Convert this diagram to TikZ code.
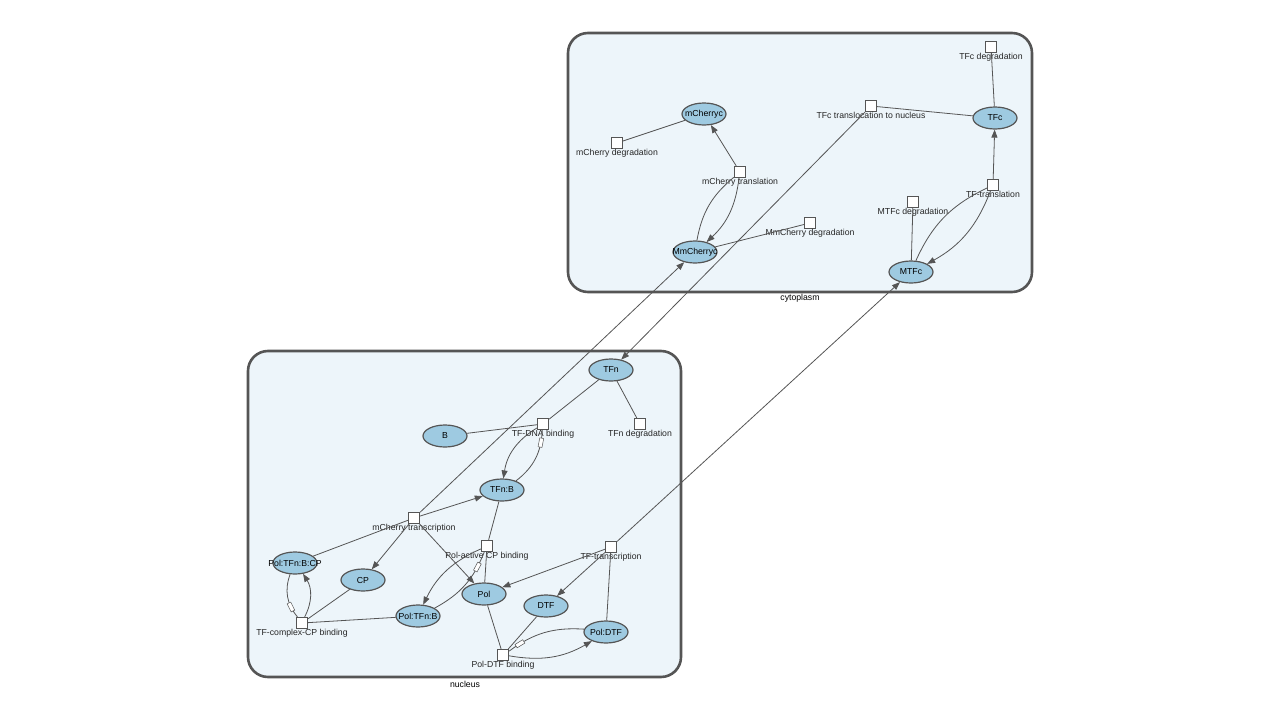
\documentclass[tikz,border=0pt]{standalone}
\usepackage{fontspec}
\setmainfont{Liberation Sans}
\usetikzlibrary{shapes.geometric,arrows.meta}
\definecolor{compfill}{HTML}{EDF5FA}
\definecolor{specfill}{HTML}{9ECAE1}
\definecolor{linegray}{HTML}{555555}
\newcommand{\sname}[1]{\makebox[0pt]{#1}}

\begin{document}
\begin{tikzpicture}[x=1pt,y=1pt,
    font=\fontsize{8.7}{10}\selectfont,
    compartment/.style={draw=linegray,line width=2.6pt,fill=compfill,rounded corners=20pt},
    species/.style={ellipse,draw=linegray,line width=1.2pt,fill=specfill,minimum width=44pt,minimum height=22pt,inner sep=0pt},
    process/.style={draw=linegray,line width=1.2pt,fill=white,minimum size=11pt,inner sep=0pt},
    lbl/.style={inner sep=0pt,text=black!85},
    edge/.style={draw=linegray,line width=0.8pt},
    prod/.style={edge,-{Triangle[length=8pt,width=6pt]}},
    revmark/.style={draw=linegray,line width=0.5pt,fill=white,minimum width=9pt,minimum height=4pt,inner sep=0pt,sloped}]
  \useasboundingbox (0,1) rectangle (1280,-719);
  %compartments
  \path[compartment] (568,-32) rectangle (1032,-291);
  \node[] (cytolbl) at (800,-297) {cytoplasm};
  \path[compartment] (248,-350) rectangle (681,-676);
  \node[] (nuclbl) at (465,-683) {nucleus};

  %cytoplasm
  \node[process,label={[lbl]below:TFc degradation}] (tfcdeg) at (991,-46) {};
  \node[species] (tfc) at (995,-117) {\sname{TFc}};
  \node[process,label={[lbl]below:TFc translocation to nucleus}] (tfctrans) at (871,-105) {};
  \node[species] (mcherryc) at (704,-113) {\sname{mCherryc}};
  \node[process,label={[lbl]below:mCherry degradation}] (mchdeg) at (617,-142) {};
  \node[process,label={[lbl]below:mCherry translation}] (mchtransl) at (740,-171) {};
  \node[species] (mmcherryc) at (695,-251) {\sname{MmCherryc}};
  \node[process,label={[lbl]below:MmCherry degradation}] (mmchdeg) at (810,-222) {};
  \node[process,label={[lbl]below:MTFc degradation}] (mtfcdeg) at (913,-201) {};
  \node[process,label={[lbl]below:TF-translation}] (tftransl) at (993,-184) {};
  \node[species] (mtfc) at (911,-271) {\sname{MTFc}};

  %nucleus
  \node[species] (tfn) at (611,-369) {\sname{TFn}};
  \node[process,label={[lbl]below:TF-DNA binding}] (tfdna) at (543,-423) {};
  \node[process,label={[lbl]below:TFn degradation}] (tfndeg) at (640,-423) {};
  \node[species] (b) at (445,-435) {\sname{B}};
  \node[species] (tfnb) at (502,-489) {\sname{TFn:B}};
  \node[process,label={[lbl]below:mCherry transcription}] (mchtranscr) at (414,-517) {};
  \node[process,label={[lbl]below:Pol-active CP binding}] (polcp) at (487,-545) {};
  \node[process,label={[lbl]below:TF-transcription}] (tftranscr) at (611,-546) {};
  \node[species] (poltfnbcp) at (295,-562) {\sname{Pol:TFn:B:CP}};
  \node[species] (cp) at (363,-579) {\sname{CP}};
  \node[species] (pol) at (484,-593) {\sname{Pol}};
  \node[species] (dtf) at (546,-605) {\sname{DTF}};
  \node[species] (poltfnb) at (418,-615) {\sname{Pol:TFn:B}};
  \node[process,label={[lbl]below:TF-complex-CP binding}] (tfcompl) at (302,-622) {};
  \node[species] (poldtf) at (606,-631) {\sname{Pol:DTF}};
  \node[process,label={[lbl]below:Pol-DTF binding}] (poldtfb) at (503,-654) {};

  %cytoplasm edges
  \path[edge] (tfcdeg)--(tfc);
  \path[edge] (tfctrans)--(tfc);
  \path[prod] (tfctrans)--(tfn);
  \path[edge] (mchdeg)--(mcherryc);
  \path[prod] (mchtransl)--(mcherryc);
  \path[edge] (mmcherryc) to[bend left=20] (mchtransl);
  \path[prod] (mchtransl) to[bend left=20] (mmcherryc);
  \path[edge] (mmcherryc)--(mmchdeg);
  \path[prod] (mchtranscr)--(mmcherryc);
  \path[prod] (tftransl)--(tfc);
  \path[edge] (mtfc) to[bend left=20] (tftransl);
  \path[prod] (tftransl) to[bend left=20] (mtfc);
  \path[edge] (mtfc)--(mtfcdeg);
  \path[prod] (tftranscr)--(mtfc);

  %nucleus edges
  \path[edge] (tfn)--(tfdna);
  \path[edge] (tfn)--(tfndeg);
  \path[edge] (b)--(tfdna);
  \path[prod] (tfdna) to[bend right=25] (tfnb);
  \path[edge] (tfnb) to[bend right=25] node[revmark,pos=0.8]{} (tfdna);
  \path[prod] (mchtranscr)--(tfnb);
  \path[edge] (poltfnbcp)--(mchtranscr);
  \path[prod] (mchtranscr)--(cp);
  \path[prod] (mchtranscr)--(pol);
  \path[edge] (tfnb)--(polcp);
  \path[edge] (pol)--(polcp);
  \path[prod] (polcp) to[bend right=20] (poltfnb);
  \path[edge] (poltfnb) to[bend right=20] node[revmark,pos=0.8]{} (polcp);
  \path[prod] (tftranscr)--(pol);
  \path[prod] (tftranscr)--(dtf);
  \path[edge] (poldtf)--(tftranscr);
  \path[edge] (poltfnbcp) to[bend right=30] node[revmark,pos=0.75]{} (tfcompl);
  \path[prod] (tfcompl) to[bend right=30] (poltfnbcp);
  \path[edge] (cp)--(tfcompl);
  \path[edge] (poltfnb)--(tfcompl);
  \path[edge] (pol)--(poldtfb);
  \path[edge] (dtf)--(poldtfb);
  \path[edge] (poldtf) to[bend right=20] node[revmark,pos=0.85]{} (poldtfb);
  \path[prod] (poldtfb) to[bend right=20] (poldtf);
\end{tikzpicture}
\end{document}
